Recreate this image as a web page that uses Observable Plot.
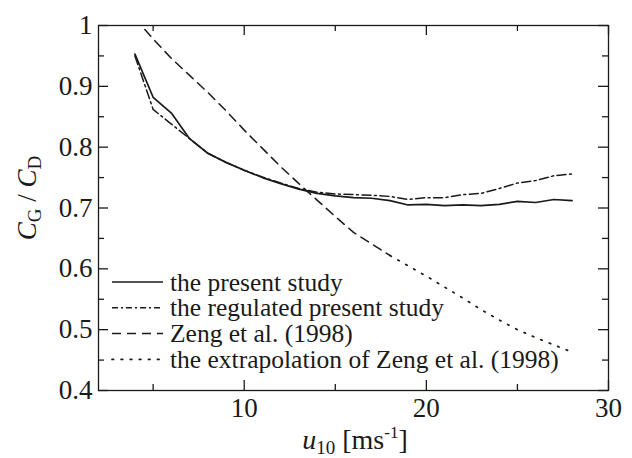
<!DOCTYPE html>
<html><head><meta charset="utf-8">
<script src="https://cdn.jsdelivr.net/npm/d3@7"></script>
<script src="https://cdn.jsdelivr.net/npm/@observablehq/plot@0.6"></script>
<style>body{margin:0;background:#fff}</style>
</head><body><div id="chart"></div>
<script>
// ---- data ----
const u10 = [4,5,6,7,8,9,10,11,12,13,14,15,16,17,18,19,20,21,22,23,24,25,26,27,28];
const presentStudy = [0.953,0.882,0.856,0.814,0.790,0.775,0.762,0.750,0.740,0.731,0.724,0.720,0.717,0.716,0.712,0.705,0.706,0.704,0.705,0.704,0.706,0.711,0.709,0.714,0.712];
const regulatedStudy = [0.950,0.862,0.838,0.814,0.790,0.775,0.762,0.751,0.741,0.732,0.726,0.723,0.722,0.721,0.719,0.714,0.717,0.717,0.722,0.724,0.732,0.741,0.745,0.753,0.756];
const zengU = [4,5,6,7,8,9,10,11,12,13,14,15,16,17,18];
const zengValues = [1.012,0.978,0.946,0.918,0.890,0.860,0.828,0.798,0.768,0.740,0.713,0.686,0.660,0.641,0.622];
const extrapU = [18,19,20,21,22,23,24,25,26,27,28];
const extrapValues = [0.622,0.605,0.588,0.570,0.552,0.533,0.516,0.500,0.487,0.475,0.463];
const xMajorTicks = [10,20,30];
const xMinorTicks = [5,15,25];
const yMajorTicks = [0.4,0.5,0.6,0.7,0.8,0.9,1];
const yMinorTicks = [0.45,0.55,0.65,0.75,0.85,0.95];
const legendLabels = ["the present study","the regulated present study","Zeng et al. (1998)","the extrapolation of Zeng et al. (1998)"];

// ---- layout ----
const W = 632, H = 458;
const mL = 98, mR = 24, mT = 25, mB = 68;
const fw = W - mL - mR, fh = H - mT - mB;
const ink = "#1a1a1a";
const font = "'Liberation Serif','Times New Roman',serif";
const styles = [
  {dash: null, width: 1.7},
  {dash: "9,3.5,2,3.5", width: 1.5},
  {dash: "9,6", width: 1.5},
  {dash: "1.6,7.5", width: 1.7}
];

const present = u10.map((u,i)=>({u, v: presentStudy[i]}));
const regulated = u10.map((u,i)=>({u, v: regulatedStudy[i]}));
const zeng = zengU.map((u,i)=>({u, v: zengValues[i]}));
const extrap = extrapU.map((u,i)=>({u, v: extrapValues[i]}));

const plot = Plot.plot({
  width: W, height: H,
  marginLeft: mL, marginRight: mR, marginTop: mT, marginBottom: mB,
  style: {fontFamily: font, color: ink, background: "#fff", overflow: "visible"},
  x: {domain: [2, 30], label: null},
  y: {domain: [0.4, 1], label: null},
  marks: [
    Plot.line(present, {x: "u", y: "v", stroke: ink, strokeWidth: styles[0].width, clip: true}),
    Plot.line(regulated, {x: "u", y: "v", stroke: ink, strokeWidth: styles[1].width, strokeDasharray: styles[1].dash, clip: true}),
    Plot.line(zeng, {x: "u", y: "v", stroke: ink, strokeWidth: styles[2].width, strokeDasharray: styles[2].dash, clip: true}),
    Plot.line(extrap, {x: "u", y: "v", stroke: ink, strokeWidth: styles[3].width, strokeDasharray: styles[3].dash, strokeLinecap: "round", clip: true}),
    // inward ticks, all four sides
    Plot.tickX(xMajorTicks, {x: d=>d, insetTop: fh-10, stroke: ink, strokeWidth: 1.3}),
    Plot.tickX(xMajorTicks, {x: d=>d, insetBottom: fh-10, stroke: ink, strokeWidth: 1.3}),
    Plot.tickX(xMinorTicks, {x: d=>d, insetTop: fh-6, stroke: ink, strokeWidth: 1.3}),
    Plot.tickX(xMinorTicks, {x: d=>d, insetBottom: fh-6, stroke: ink, strokeWidth: 1.3}),
    Plot.tickY(yMajorTicks, {y: d=>d, insetRight: fw-10, stroke: ink, strokeWidth: 1.3}),
    Plot.tickY(yMajorTicks, {y: d=>d, insetLeft: fw-10, stroke: ink, strokeWidth: 1.3}),
    Plot.tickY(yMinorTicks, {y: d=>d, insetRight: fw-6, stroke: ink, strokeWidth: 1.3}),
    Plot.tickY(yMinorTicks, {y: d=>d, insetLeft: fw-6, stroke: ink, strokeWidth: 1.3}),
    Plot.axisX(xMajorTicks, {anchor: "bottom", tickSize: 0, tickPadding: 7, fontSize: 27, label: null, tickFormat: d=>String(d)}),
    Plot.axisY(yMajorTicks, {anchor: "left", tickSize: 0, tickPadding: 6, fontSize: 27, label: null, tickFormat: d=>d===1?"1":d.toFixed(1)}),
    Plot.frame({stroke: ink, strokeWidth: 1.3})
  ]
});
document.getElementById("chart").appendChild(plot);

// ---- legend & axis titles ----
const svg = d3.select(plot);
const lg = svg.append("g").attr("font-family", font).attr("font-size", 25.5).attr("fill", ink).attr("text-anchor", "start");
legendLabels.forEach((t, i) => {
  const y = 282 + i * 25.8;
  const s = styles[i];
  const ln = lg.append("line").attr("x1", 112).attr("x2", 163).attr("y1", y).attr("y2", y)
    .attr("stroke", ink).attr("stroke-width", s.width);
  if (s.dash) ln.attr("stroke-dasharray", i === 1 ? "6,3,2,3" : s.dash);
  if (i === 3) ln.attr("stroke-linecap", "round");
  lg.append("text").attr("x", 170).attr("y", y + 8.5).attr("text-anchor", "start").text(t);
});

// y label: C_G / C_D
const yl = svg.append("text").attr("font-family", font).attr("font-size", 27).attr("fill", ink)
  .attr("text-anchor", "middle").attr("transform", "translate(36,198) rotate(-90)");
yl.append("tspan").attr("font-style", "italic").text("C");
yl.append("tspan").attr("font-size", 19).attr("dy", 5).text("G");
yl.append("tspan").attr("dy", -5).text(" / ");
yl.append("tspan").attr("font-style", "italic").text("C");
yl.append("tspan").attr("font-size", 19).attr("dy", 5).text("D");

// x label: u_10 [ms^-1]
const xl = svg.append("text").attr("font-family", font).attr("font-size", 28).attr("fill", ink)
  .attr("text-anchor", "middle").attr("x", 355).attr("y", 449);
xl.append("tspan").attr("font-style", "italic").text("u");
xl.append("tspan").attr("font-size", 19).attr("dy", 5).text("10");
xl.append("tspan").attr("dy", -5).text(" [ms");
xl.append("tspan").attr("font-size", 17).attr("dy", -11).text("-1");
xl.append("tspan").attr("dy", 11).text("]");
</script>
</body></html>
